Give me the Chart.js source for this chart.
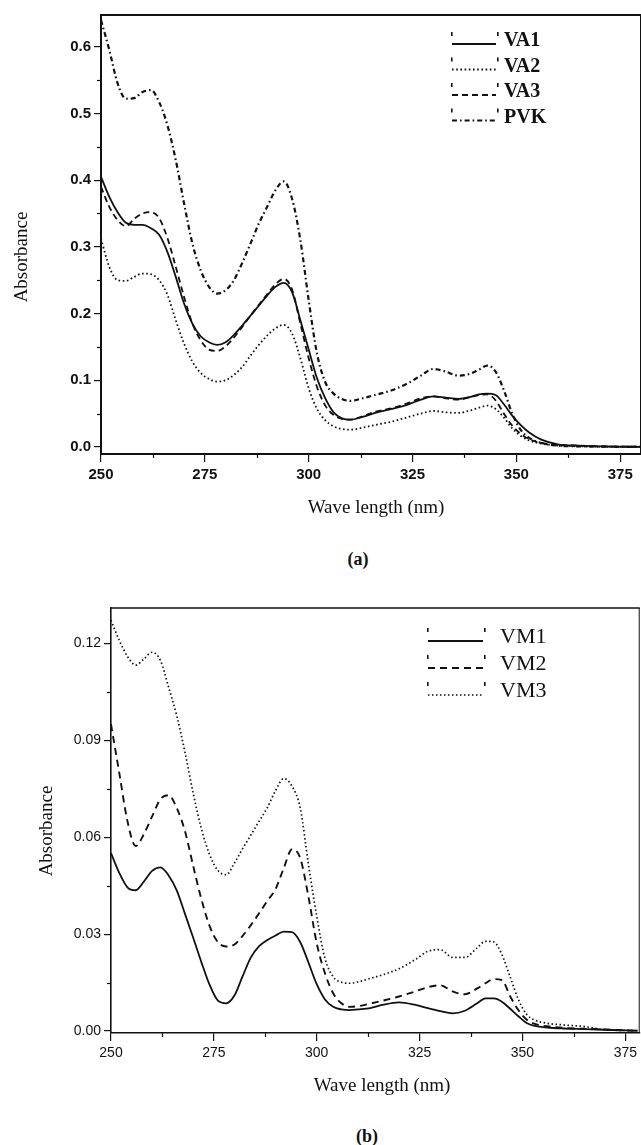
<!DOCTYPE html>
<html>
<head>
<meta charset="utf-8">
<script src="https://cdn.jsdelivr.net/npm/chart.js@4.4.1/dist/chart.umd.min.js"></script>
<style>
body{margin:0;background:#fff;}
#wrap{position:relative;width:641px;height:1145px;overflow:hidden;background:#fff;}
canvas{position:absolute;left:0;}
#chartA{top:0;}
#chartB{top:590px;}
.cap{position:absolute;font:bold 18px "Liberation Serif","Times New Roman",serif;color:#111;transform:translate(-50%,-50%);}
</style>
</head>
<body>
<div id="wrap">
<canvas id="chartA" width="641" height="530"></canvas>
<div class="cap" style="left:358px;top:559px;">(a)</div>
<canvas id="chartB" width="641" height="510"></canvas>
<div class="cap" style="left:367px;top:1136px;">(b)</div>
</div>
<script>
// ====================================
// DATA  (a)
// ====================================

const aWave = [250,252,254,256,258,260,262,264,266,268,
               270,272,274,276,278,280,282,284,286,288,
               290,292,294,296,298,300,302,304,306,308,
               310,313,316,320,324,327,330,333,336,339,
               341,343,345,347,349,351,353,356,360,365,
               370,375,380];

const aVA1 = [0.405,0.375,0.352,0.336,0.333,0.333,0.328,0.318,0.292,0.255,
              0.215,0.185,0.166,0.157,0.153,0.157,0.168,0.182,0.197,0.212,
              0.227,0.240,0.246,0.232,0.190,0.146,0.103,0.073,0.052,0.043,
              0.041,0.045,0.051,0.057,0.064,0.071,0.076,0.074,0.072,0.075,
              0.079,0.080,0.078,0.064,0.047,0.033,0.022,0.011,0.004,0.002,
              0.001,0.0005,0.0003];

const aVA2 = [0.312,0.270,0.250,0.249,0.255,0.260,0.259,0.250,0.228,0.190,
              0.155,0.128,0.111,0.102,0.098,0.100,0.108,0.120,0.137,0.153,
              0.167,0.178,0.183,0.170,0.133,0.088,0.057,0.040,0.031,0.027,
              0.026,0.029,0.033,0.038,0.045,0.050,0.054,0.052,0.051,0.055,
              0.059,0.062,0.057,0.044,0.028,0.017,0.010,0.005,0.002,0.001,
              0.0005,0.0003,0.0002];

const aVA3 = [0.390,0.360,0.340,0.331,0.342,0.350,0.352,0.343,0.313,0.270,
              0.225,0.185,0.160,0.146,0.144,0.151,0.164,0.180,0.197,0.213,
              0.229,0.244,0.252,0.236,0.185,0.133,0.090,0.062,0.048,0.042,
              0.041,0.046,0.053,0.058,0.066,0.073,0.076,0.073,0.071,0.075,
              0.078,0.079,0.070,0.050,0.032,0.020,0.012,0.006,0.003,0.002,
              0.001,0.0005,0.0003];

const aPVK = [0.640,0.595,0.545,0.522,0.523,0.532,0.535,0.517,0.482,0.430,
              0.365,0.305,0.265,0.240,0.230,0.235,0.250,0.276,0.305,0.335,
              0.360,0.385,0.398,0.372,0.310,0.220,0.140,0.097,0.080,0.072,
              0.069,0.073,0.078,0.085,0.096,0.107,0.117,0.113,0.107,0.110,
              0.116,0.122,0.113,0.085,0.050,0.026,0.014,0.006,0.002,0.001,
              0.0005,0.0003,0.0002];

const aXTicks = [250,275,300,325,350,375];
const aYTicks = [0,0.1,0.2,0.3,0.4,0.5,0.6];

// ====================================
// DATA  (b)
// ====================================

const bWave = [250,252,254,256,258,260,262,264,266,268,
               270,272,274,276,278,280,282,284,286,288,
               290,292,294,296,298,300,302,304,306,308,
               310,313,316,320,324,327,330,333,336,339,
               341,343,345,347,349,351,353,356,360,365,
               370,375,378];

const bVM1 = [0.0551,0.0490,0.0445,0.0436,0.0463,0.0496,0.0507,0.0482,0.0435,0.0362,
              0.0288,0.0212,0.0142,0.0094,0.0086,0.0110,0.0170,0.0228,0.0263,0.0282,
              0.0296,0.0308,0.0306,0.0275,0.0212,0.0145,0.0098,0.0075,0.0067,0.0065,
              0.0067,0.0071,0.0081,0.0089,0.0081,0.0071,0.0062,0.0055,0.0063,0.0086,
              0.0101,0.0101,0.0091,0.0069,0.0046,0.0025,0.0016,0.0011,0.0008,0.0006,
              0.0004,0.0002,0.0001];

const bVM2 = [0.0950,0.0800,0.0650,0.0573,0.0610,0.0665,0.0718,0.0730,0.0690,0.0618,
              0.0510,0.0407,0.0324,0.0275,0.0262,0.0268,0.0295,0.0328,0.0365,0.0403,
              0.0440,0.0505,0.0563,0.0535,0.0415,0.0272,0.0179,0.0117,0.0086,0.0075,
              0.0077,0.0085,0.0094,0.0107,0.0123,0.0136,0.0142,0.0123,0.0114,0.0132,
              0.0148,0.0161,0.0158,0.0108,0.0065,0.0036,0.0022,0.0015,0.0010,0.0007,
              0.0005,0.0002,0.0001];

const bVM3 = [0.1272,0.1210,0.1160,0.1133,0.1152,0.1173,0.1148,0.1065,0.0975,0.0862,
              0.0735,0.0625,0.0545,0.0497,0.0484,0.0520,0.0565,0.0607,0.0650,0.0692,
              0.0745,0.0782,0.0758,0.0690,0.0515,0.0355,0.0225,0.0168,0.0151,0.0148,
              0.0152,0.0163,0.0174,0.0193,0.0222,0.0247,0.0252,0.0228,0.0228,0.0258,
              0.0278,0.0276,0.0237,0.0168,0.0098,0.0052,0.0034,0.0024,0.0019,0.0014,
              0.0004,0.0002,0.0001];

const bXTicks = [250,275,300,325,350,375];
const bYTicks = [0,0.03,0.06,0.09,0.12];

// ====================================
// HELPERS
// ====================================

const INK = '#111';

function pts(wave, vals){
    return wave.map((w, i) => ({x: w, y: vals[i]}));
}

function line(label, wave, vals, dash, width){
    return {
        label: label,
        data: pts(wave, vals),
        borderColor: INK,
        borderWidth: width,
        borderDash: dash,
        pointRadius: 0,
        fill: false,
        cubicInterpolationMode: 'monotone'
    };
}

// frame, minor ticks, axis titles and inset legend
const panelDecor = {
    id: 'panelDecor',
    afterDraw(chart, args, o){
        const ctx = chart.ctx;
        const area = chart.chartArea;
        const xs = chart.scales.x;
        const ys = chart.scales.y;

        ctx.save();
        ctx.strokeStyle = INK;
        ctx.fillStyle = INK;
        ctx.setLineDash([]);

        // top + right of the box
        ctx.lineWidth = o.topWidth;
        ctx.beginPath();
        ctx.moveTo(area.left, area.top);
        ctx.lineTo(area.right, area.top);
        ctx.stroke();
        ctx.lineWidth = 1;
        ctx.beginPath();
        ctx.moveTo(area.right - 0.5, area.top);
        ctx.lineTo(area.right - 0.5, area.bottom);
        ctx.stroke();

        // minor ticks half way
        ctx.lineWidth = 1.2;
        const xt = xs.ticks.map(t => t.value);
        for(let i = 0; i < xt.length - 1; i++){
            const px = Math.round(xs.getPixelForValue((xt[i] + xt[i+1]) / 2)) + 0.5;
            ctx.beginPath();
            ctx.moveTo(px, area.bottom);
            ctx.lineTo(px, area.bottom + 4);
            ctx.stroke();
        }
        const yt = ys.ticks.map(t => t.value);
        for(let i = 0; i < yt.length - 1; i++){
            const py = Math.round(ys.getPixelForValue((yt[i] + yt[i+1]) / 2)) + 0.5;
            ctx.beginPath();
            ctx.moveTo(area.left - 4, py);
            ctx.lineTo(area.left, py);
            ctx.stroke();
        }

        // axis titles
        ctx.font = '19px "Liberation Serif", "Times New Roman", serif';
        ctx.textAlign = 'center';
        ctx.textBaseline = 'middle';
        ctx.fillText(o.xTitle, o.xTitleX, o.xTitleY);
        ctx.save();
        ctx.translate(o.yTitleX, o.yTitleY);
        ctx.rotate(-Math.PI / 2);
        ctx.fillText(o.yTitle, 0, 0);
        ctx.restore();

        // legend
        ctx.font = o.keyFont;
        ctx.textAlign = 'left';
        chart.data.datasets.forEach((ds, i) => {
            const cy = o.keyTop + i * o.keyStep;
            ctx.lineWidth = ds.borderWidth;
            ctx.setLineDash(ds.borderDash || []);
            ctx.beginPath();
            ctx.moveTo(o.keyX0, cy + o.keyLineDy);
            ctx.lineTo(o.keyX1, cy + o.keyLineDy);
            ctx.stroke();
            ctx.setLineDash([]);
            ctx.fillRect(o.keyX0 - 1, cy - 9, 1.6, 4);
            ctx.fillRect(o.keyX1 + 1, cy - 9, 1.6, 4);
            ctx.fillText(ds.label, o.keyTextX, cy);
        });

        ctx.restore();
    }
};

function axes(xTicks, yTicks, xMax, yMin, yMax, yWidth, xHeight, yDigits, fontSize, weight, axisWidth){
    const tickFont = {family: '"Liberation Sans", Arial, sans-serif', size: fontSize, weight: weight};
    return {
        x: {
            type: 'linear',
            min: 250,
            max: xMax,
            afterBuildTicks: s => { s.ticks = xTicks.map(v => ({value: v})); },
            afterFit: s => { s.height = xHeight; },
            ticks: {color: INK, font: tickFont, padding: 4, maxRotation: 0,
                    callback: v => String(v)},
            grid: {drawOnChartArea: false, drawTicks: true, tickLength: 8,
                   color: INK, lineWidth: 1.2},
            border: {display: true, color: INK, width: axisWidth}
        },
        y: {
            type: 'linear',
            min: yMin,
            max: yMax,
            afterBuildTicks: s => { s.ticks = yTicks.map(v => ({value: v})); },
            afterFit: s => { s.width = yWidth; },
            ticks: {color: INK, font: tickFont, padding: 3,
                    callback: v => v.toFixed(yDigits)},
            grid: {drawOnChartArea: false, drawTicks: true, tickLength: 7,
                   color: INK, lineWidth: 1.2},
            border: {display: true, color: INK, width: axisWidth}
        }
    };
}

// ====================================
// CHART (a)
// ====================================

const chartA = new Chart(document.getElementById('chartA'), {
    type: 'line',
    data: {
        datasets: [
            line('VA1', aWave, aVA1, [], 1.8),
            line('VA2', aWave, aVA2, [1.6, 2.6], 1.8),
            line('VA3', aWave, aVA3, [6, 4], 1.8),
            line('PVK', aWave, aPVK, [5, 3, 1.6, 3], 2.2)
        ]
    },
    options: {
        responsive: false,
        animation: false,
        layout: {padding: {top: 15, right: 0, left: 0, bottom: 0}},
        scales: axes(aXTicks, aYTicks, 380, -0.0105, 0.6475, 101, 76, 1, 15, 'bold', 2),
        plugins: {
            legend: {display: false},
            tooltip: {enabled: false},
            panelDecor: {
                topWidth: 2.2,
                xTitle: 'Wave length (nm)', xTitleX: 376, xTitleY: 508,
                yTitle: 'Absorbance', yTitleX: 22, yTitleY: 257,
                keyFont: 'bold 20px "Liberation Serif", "Times New Roman", serif',
                keyTop: 41, keyStep: 25.5, keyX0: 452, keyX1: 496, keyTextX: 504, keyLineDy: 3
            }
        }
    },
    plugins: [panelDecor]
});

// ====================================
// CHART (b)
// ====================================

const chartB = new Chart(document.getElementById('chartB'), {
    type: 'line',
    data: {
        datasets: [
            line('VM1', bWave, bVM1, [], 1.8),
            line('VM2', bWave, bVM2, [7, 5], 1.9),
            line('VM3', bWave, bVM3, [1.5, 2.5], 1.7)
        ]
    },
    options: {
        responsive: false,
        animation: false,
        layout: {padding: {top: 18, right: 0, left: 0, bottom: 0}},
        scales: axes(bXTicks, bYTicks, 378.5, -0.0006, 0.131, 111, 67, 2, 14, 'normal', 1.6),
        plugins: {
            legend: {display: false},
            tooltip: {enabled: false},
            panelDecor: {
                topWidth: 1.6,
                xTitle: 'Wave length (nm)', xTitleX: 382, xTitleY: 496,
                yTitle: 'Absorbance', yTitleX: 47, yTitleY: 241,
                keyFont: '22px "Liberation Serif", "Times New Roman", serif',
                keyTop: 47, keyStep: 27, keyX0: 428, keyX1: 483, keyTextX: 500, keyLineDy: 4
            }
        }
    },
    plugins: [panelDecor]
});
</script>
</body>
</html>
